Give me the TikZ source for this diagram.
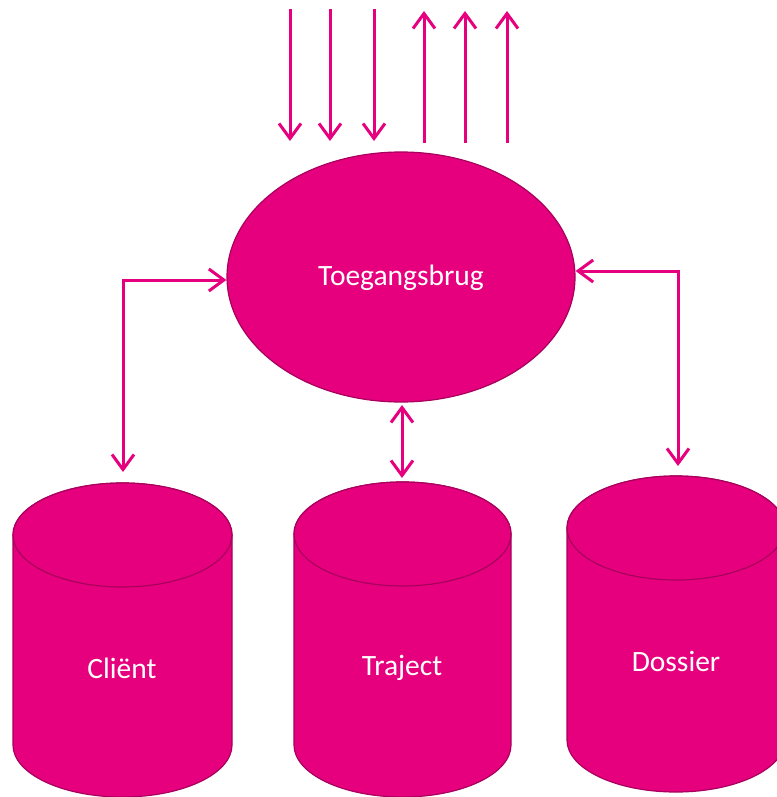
\documentclass[tikz,border=0pt]{standalone}
\usepackage{fontspec}
\setmainfont{Carlito}
\usetikzlibrary{arrows.meta,shapes.geometric}
\definecolor{mag}{HTML}{E6007E}
\definecolor{magdark}{HTML}{A8005C}
\tikzset{
  arr/.style={draw=mag, line width=3pt, arrows={-Straight Barb[length=15pt,width=22pt]}},
  dbl/.style={draw=mag, line width=3pt, arrows={Straight Barb[length=15pt,width=22pt]-Straight Barb[length=15pt,width=22pt]}},
  shapefill/.style={fill=mag, draw=magdark, line width=1.2pt},
  lbl/.style={text=white, font=\fontsize{29.5}{32}\selectfont, inner sep=0pt}
}
\newcommand{\dbcyl}[4]{% cx, rx, top center y, bottom center y
  \path[shapefill] (#1-#2,#3) -- (#1-#2,#4)
     arc[start angle=180,end angle=360,x radius=#2pt,y radius=52pt]
     -- (#1+#2,#3)
     arc[start angle=0,end angle=180,x radius=#2pt,y radius=52pt] -- cycle;
  \path[shapefill] (#1,#3) ellipse[x radius=#2pt,y radius=52pt];
}
\begin{document}
\begin{tikzpicture}[x=1pt,y=-1pt]
\useasboundingbox (0,0) rectangle (776,797);
% top arrows
\foreach \i/\x in {1/290,2/330,3/374}{
  \coordinate (ina\i) at (\x,9);
  \coordinate (inb\i) at (\x,141);
  \draw[arr] (ina\i) -- (inb\i);
}
\foreach \i/\x in {1/424,2/465,3/507}{
  \coordinate (outa\i) at (\x,143);
  \coordinate (outb\i) at (\x,11);
  \draw[arr] (outa\i) -- (outb\i);
}
% central ellipse
\node[ellipse, shapefill, minimum width=348pt, minimum height=250pt, inner sep=0pt] (T) at (401,277) {};
\node[lbl] (Tl) at (401,278) {Toegangsbrug};
% cylinders
\dbcyl{122.5}{109.5}{535}{745}
\dbcyl{402.5}{108.5}{534}{745}
\dbcyl{676}{109}{528}{740}
\node[lbl] (cl) at (122,668) {Cliënt};
\node[lbl] (tj) at (402,668) {Traject};
\node[lbl] (ds) at (676,661) {Dossier};
\coordinate (clTop) at (123,472);
\coordinate (tjTop) at (402,478);
\coordinate (tjBot) at (402,405);
\coordinate (dsTop) at (678,466);
% connectors
\draw[dbl] (clTop) |- ([yshift=-3pt]T.west);
\draw[dbl] ([yshift=6pt]T.east) -| (dsTop);
\draw[dbl] (tjBot) -- (tjTop);
\end{tikzpicture}
\end{document}
